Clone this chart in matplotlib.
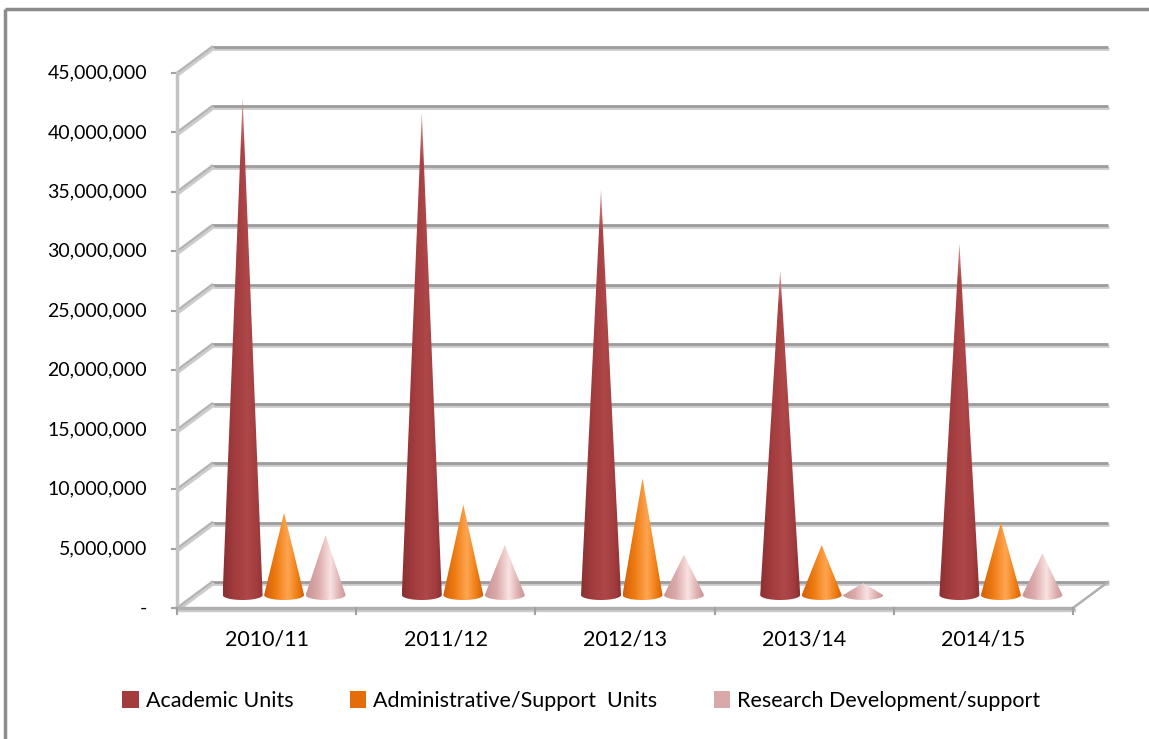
import numpy as np
import matplotlib
matplotlib.use('Agg')
import matplotlib.pyplot as plt
from matplotlib.patches import Polygon, Patch
import matplotlib.patheffects as pe
from matplotlib.colors import to_rgb

plt.rcParams['font.family'] = ['Lato', 'DejaVu Sans']

# ---------------- data ----------------
categories = ['2010/11', '2011/12', '2012/13', '2013/14', '2014/15']
series_names = ['Academic Units', 'Administrative/Support  Units', 'Research Development/support']
academic = [41.8e6, 40.6e6, 34.1e6, 27.3e6, 29.6e6]
administrative = [6.9e6, 7.6e6, 9.8e6, 4.2e6, 6.1e6]
research = [5.05e6, 4.2e6, 3.4e6, 1.0e6, 3.5e6]
y_ticks = [0, 5e6, 10e6, 15e6, 20e6, 25e6, 30e6, 35e6, 40e6, 45e6]
y_tick_labels = ['-'] + [f'{int(v):,}' for v in y_ticks[1:]]

series_values = [academic, administrative, research]
legend_colors = ['#A33D3D', '#E46C0A', '#D9A9A9']
# (dark edge, mid, highlight)
cone_shades = [('#8C3032', '#A23C3E', '#AE4748'),
               ('#D4600A', '#EE7C12', '#FFA550'),
               ('#C99494', '#DCABAB', '#F9E2E2')]

# ---------------- layout helpers ----------------
W, H = 1149, 739
PX = 179.2          # pixels per category
PY = 11.89e-6       # pixels per unit value
x0px, y0px = 177, 608

def px2x(p):
    return p / PX

def px2y(p):
    return p / PY

DX, DY = px2x(35), px2y(26)

fig = plt.figure(figsize=(W / 100, H / 100), dpi=100)
ax = fig.add_axes([0, 0, 1, 1])
ax.axis('off')

grid_fx = [pe.SimpleLineShadow(offset=(1, -1.5), shadow_color='#cccccc', alpha=1.0), pe.Normal()]
ncat = len(categories)

# back wall gridlines
for v in y_ticks:
    ax.plot([DX, ncat + DX], [v + DY, v + DY], color='#9c9c9c', lw=2.0,
            solid_capstyle='butt', path_effects=grid_fx, zorder=1)
    # side wall diagonals
    ax.plot([0, DX], [v, v + DY], color='#b4b4b4', lw=1.8,
            path_effects=grid_fx, zorder=1)
    # y tick marks
    ax.plot([-px2x(5), 0], [v, v], color='#a0a0a0', lw=1.5, zorder=2)
    lab = y_tick_labels[y_ticks.index(v)]
    ax.text(-px2x(30), v, lab, ha='right', va='center', fontsize=14, color='#000000')

# front value axis line
ax.plot([0, 0], [0, y_ticks[-1]], color='#c4c4c4', lw=2.5, zorder=2)
# floor edges
ax.plot([0, ncat], [0, 0], color='#b0b0b0', lw=2.5, zorder=2,
        path_effects=grid_fx)
ax.plot([ncat, ncat + DX], [0, DY], color='#b0b0b0', lw=1.8, zorder=2)
for i in range(ncat + 1):
    ax.plot([i, i], [0, -px2y(6)], color='#a0a0a0', lw=1.5, zorder=2)

for i, c in enumerate(categories):
    ax.text(i + 0.5, -px2y(32), c, ha='center', va='center', fontsize=15.5)

# ---------------- cones ----------------
def shade_profile(shades, n=80):
    d, m, h = [np.array(to_rgb(c)) for c in shades]
    stops = [(0.0, d), (0.3, m), (0.6, h), (0.85, m), (1.0, d)]
    s = np.linspace(0, 1, n)
    out = np.zeros((n, 3))
    for k in range(len(stops) - 1):
        a, ca = stops[k]
        b, cb = stops[k + 1]
        mask = (s >= a) & (s <= b)
        t = ((s[mask] - a) / (b - a))[:, None]
        out[mask] = ca * (1 - t) + cb * t
    return out

half_w = px2x(20)
ell_h = px2y(5)
spacing = px2x(41.5)
for j, vals in enumerate(series_values):
    prof = shade_profile(cone_shades[j])
    for i, val in enumerate(vals):
        xc = i + 0.5 + (j - 1) * spacing + DX / 2
        yb = DY / 2
        top = yb + val
        th = np.linspace(0, -np.pi, 40)
        pts = [(xc, top)] + [(xc + half_w * np.cos(t), yb + ell_h * np.sin(t)) for t in th]
        poly = Polygon(pts, closed=True, facecolor='none', edgecolor='none', zorder=3)
        ax.add_patch(poly)
        rows = 120
        tt = np.linspace(0, 1, rows)[:, None, None]
        img = np.repeat(prof[None, :, :], rows, axis=0)
        if j == 0:
            fade = np.clip((tt - 0.9) / 0.1, 0, 1) * 0.55
            img = img * (1 - fade) + np.array([1.0, 0.85, 0.85]) * fade
        im = ax.imshow(img, extent=(xc - half_w, xc + half_w, yb - ell_h, top),
                       origin='lower', aspect='auto', interpolation='bilinear', zorder=3)
        im.set_clip_path(poly)

ax.set_xlim(-x0px / PX, (W - x0px) / PX)
ax.set_ylim(-(H - y0px) / PY, y0px / PY)

# outer border (top and left)
ax.plot([5 / W, 1], [1 - 9 / H, 1 - 9 / H], color='#8c8c8c', lw=2.5,
        transform=ax.transAxes, solid_capstyle='butt')
ax.plot([5 / W, 5 / W], [0, 1 - 9 / H], color='#8c8c8c', lw=2.5,
        transform=ax.transAxes, solid_capstyle='butt')

handles = [Patch(facecolor=c, edgecolor='none') for c in legend_colors]
ax.legend(handles, series_names, loc='center', bbox_to_anchor=(0.506, 1 - 701 / H),
          ncol=3, frameon=False, fontsize=15.5, handlelength=0.75, handleheight=0.8,
          handletextpad=0.35, columnspacing=2.6)

fig.savefig('out.png', dpi=100)
